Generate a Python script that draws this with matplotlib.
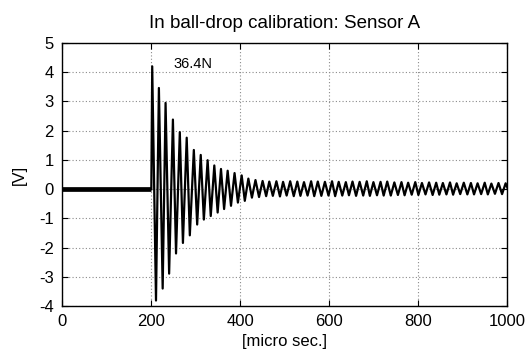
import numpy as np
import matplotlib
matplotlib.use("Agg")
import matplotlib.pyplot as plt

plt.rcParams['font.family'] = ['Liberation Sans', 'DejaVu Sans']
plt.rcParams['axes.unicode_minus'] = False

# pre-trigger baseline (noisy band around 0)
pre_t = [0, 200]
pre_v = [0.0, 0.0]

# decaying ring-down: peaks and troughs
peak_t = [202, 217, 232, 248.5, 264, 279.5, 295.5, 311, 326.5, 341.5, 356.5,
          371.5, 387, 403, 418, 434]
peak_v = [4.20, 3.46, 2.95, 2.38, 1.95, 1.76, 1.34, 1.17, 0.99, 0.81, 0.69,
          0.63, 0.55, 0.47, 0.36, 0.31]
trough_t = [210.5, 225.5, 240, 255.5, 271, 286.5, 303, 318, 333.5, 349, 363.5,
            379, 394.5, 410, 426, 442]
trough_v = [-3.81, -3.40, -2.89, -2.20, -1.84, -1.58, -1.21, -1.04, -0.92,
            -0.80, -0.68, -0.57, -0.46, -0.40, -0.29, -0.27]

# steady residual oscillation
tail_peak_t = [450, 465, 481, 496, 512, 528, 543, 559, 574, 590, 606, 621, 637,
               652, 668, 684, 699, 715, 730, 746, 762, 777, 793, 808, 824, 840,
               855, 871, 886, 902, 918, 933, 949, 964, 980, 996]
tail_peak_v = [0.28, 0.26, 0.27, 0.25, 0.27, 0.26, 0.24, 0.27, 0.26, 0.25, 0.27,
               0.25, 0.24, 0.26, 0.25, 0.27, 0.24, 0.25, 0.26, 0.23, 0.24, 0.22,
               0.24, 0.21, 0.23, 0.22, 0.21, 0.23, 0.20, 0.22, 0.21, 0.20, 0.22,
               0.19, 0.21, 0.20]
tail_trough_t = [458, 473, 489, 504, 520, 535, 551, 566, 582, 598, 613, 629, 644,
                 660, 676, 691, 707, 722, 738, 754, 769, 785, 800, 816, 832, 847,
                 863, 878, 894, 910, 925, 941, 956, 972, 988]
tail_trough_v = [-0.24, -0.23, -0.25, -0.22, -0.24, -0.23, -0.22, -0.24, -0.23,
                 -0.22, -0.24, -0.22, -0.21, -0.23, -0.22, -0.23, -0.21, -0.22,
                 -0.22, -0.20, -0.21, -0.19, -0.20, -0.18, -0.20, -0.19, -0.18,
                 -0.19, -0.17, -0.18, -0.18, -0.17, -0.18, -0.16, -0.17]
end_t = [1000]
end_v = [0.05]

t = np.array(pre_t + peak_t + trough_t + tail_peak_t + tail_trough_t + end_t, dtype=float)
v = np.array(pre_v + peak_v + trough_v + tail_peak_v + tail_trough_v + end_v, dtype=float)
order = np.argsort(t, kind="stable")
t, v = t[order], v[order]

fig = plt.figure(figsize=(5.28, 3.58), dpi=100)
ax = fig.add_axes([0.118, 0.145, 0.843, 0.735])

ax.plot(pre_t, pre_v, color='black', lw=3.4, solid_capstyle='butt')
ax.plot(t[1:], v[1:], color='black', lw=1.6)

ax.text(294, 4.28, "36.4N", fontsize=10.5, ha='center', va='center')

ax.set_xlim(0, 1000)
ax.set_ylim(-4, 5)
ax.set_xticks([0, 200, 400, 600, 800, 1000])
ax.set_yticks(range(-4, 6))
ax.grid(True, color='#8a8a8a', linestyle=(0, (1, 2)), linewidth=0.8)
ax.tick_params(direction='in', top=True, right=True, length=4, labelsize=12, pad=6)
for s in ax.spines.values():
    s.set_linewidth(1.0)

ax.set_title("In ball-drop calibration: Sensor A", fontsize=13.5, pad=11)
ax.set_xlabel("[micro sec.]", fontsize=12, labelpad=3)
ax.set_ylabel("[V]", fontsize=12, labelpad=9)

fig.savefig("out.png", dpi=100)
